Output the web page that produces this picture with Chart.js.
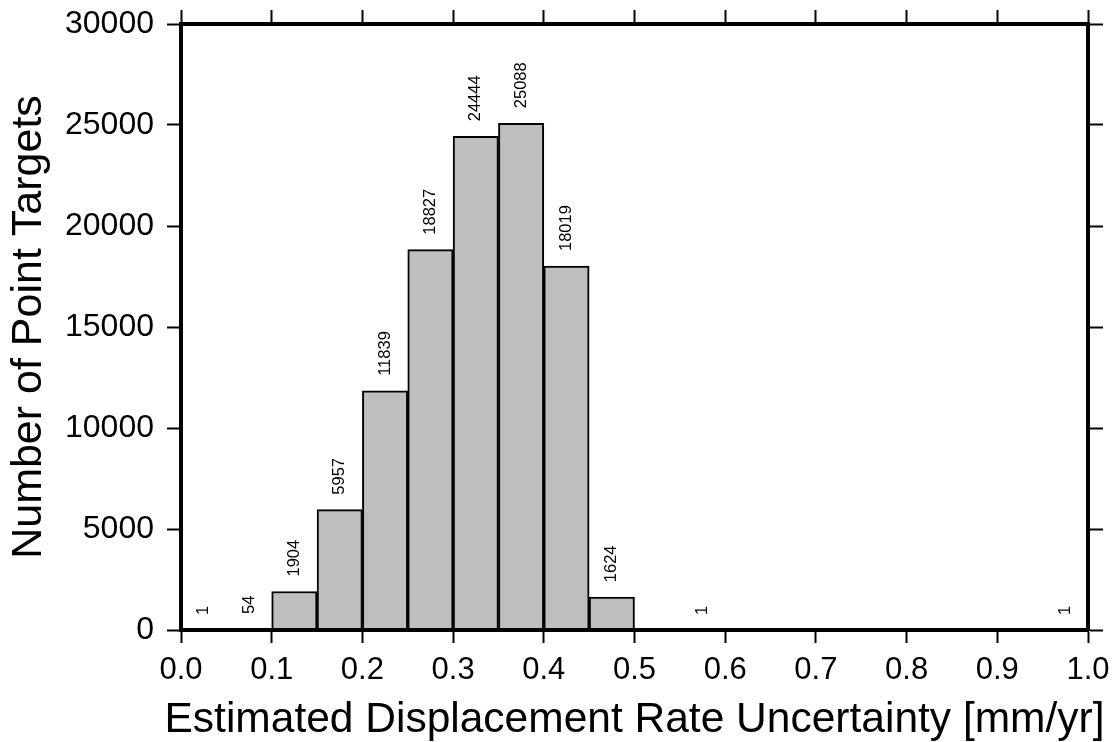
<!DOCTYPE html>
<html>
<head>
<meta charset="utf-8">
<script src="https://cdn.jsdelivr.net/npm/chart.js@4.4.1/dist/chart.umd.min.js"></script>
<style>
  html, body { margin: 0; padding: 0; background: #fff; }
  #wrap { width: 1118px; height: 742px; }
</style>
</head>
<body>
<div id="wrap"><canvas id="histograma" width="1118" height="742"></canvas></div>
<script>
// ===================== Datos del histograma ======================
var binCentros = [0.025, 0.075, 0.125, 0.175, 0.225, 0.275, 0.325, 0.375, 0.425, 0.475,
                  0.525, 0.575, 0.625, 0.675, 0.725, 0.775, 0.825, 0.875, 0.925, 0.975];
var conteos = [1, 54, 1904, 5957, 11839, 18827, 24444, 25088, 18019, 1624,
               0, 1, 0, 0, 0, 0, 0, 0, 0, 1];
var ticksX = [0.0, 0.1, 0.2, 0.3, 0.4, 0.5, 0.6, 0.7, 0.8, 0.9, 1.0];
var ticksY = [0, 5000, 10000, 15000, 20000, 25000, 30000];
var tituloX = "Estimated Displacement Rate Uncertainty [mm/yr]";
var tituloY = "Number of Point Targets";

var fuente = "'Liberation Sans', Arial, Helvetica, sans-serif";

// ===================== Etiquetas verticales sobre cada barra + título del eje X ======================
// (el título de Chart.js se comprime al ancho del área, por eso se dibuja aparte)
var etiquetasBarras = {
  id: "etiquetasBarras",
  afterDraw(chart) {
    const ctx = chart.ctx;
    const meta = chart.getDatasetMeta(0);
    ctx.save();
    ctx.fillStyle = "#000";
    ctx.font = "16.5px " + fuente;
    ctx.textAlign = "left";
    ctx.textBaseline = "middle";
    meta.data.forEach((bar, i) => {
      if (!conteos[i]) return;
      ctx.save();
      ctx.translate(bar.x, bar.y - 15);
      ctx.rotate(-Math.PI / 2);
      ctx.fillText(String(conteos[i]), 0, 0);
      ctx.restore();
    });

    const area = chart.chartArea;
    ctx.font = "42.5px " + fuente;
    ctx.textAlign = "center";
    ctx.textBaseline = "alphabetic";
    ctx.fillText(tituloX, (area.left + area.right) / 2, chart.height - 10);
    ctx.restore();
  }
};

// tamaño fijo del eje y sin relleno extra por las etiquetas
function ejeFijo(tam) {
  return function (scale) {
    if (scale.isHorizontal()) scale.height = tam; else scale.width = tam;
    scale.paddingTop = 0;
    scale.paddingBottom = 0;
    scale.paddingLeft = 0;
    scale.paddingRight = 0;
  };
}

var rejilla = function (largo) {
  return { display: true, drawOnChartArea: false, drawTicks: true, tickLength: largo, tickWidth: 2, tickColor: "#000", offset: false };
};
var borde = { display: true, width: 4, color: "#000", z: 1 };

new Chart(document.getElementById("histograma"), {
  type: "bar",
  data: {
    datasets: [{
      data: binCentros.map((c, i) => ({ x: c, y: conteos[i] })),
      backgroundColor: "#bebebe",
      borderColor: "#000",
      borderWidth: 2,
      borderSkipped: "start",
      barPercentage: 1,
      categoryPercentage: 1,
      xAxisID: "x",
      yAxisID: "y"
    }]
  },
  options: {
    responsive: false,
    animation: false,
    devicePixelRatio: 1,
    layout: { padding: 0 },
    plugins: { legend: { display: false }, tooltip: { enabled: false } },
    scales: {
      x: {
        type: "linear", position: "bottom", min: 0, max: 1, offset: false,
        afterFit: ejeFijo(112),
        afterBuildTicks: s => { s.ticks = ticksX.map(v => ({ value: v })); },
        grid: rejilla(13),
        border: borde,
        ticks: { color: "#000", padding: 12, font: { family: fuente, size: 31, lineHeight: 1 }, maxRotation: 0, autoSkip: false,
                 callback: v => v.toFixed(1) },
        title: { display: false }
      },
      x2: {
        type: "linear", position: "top", min: 0, max: 1, offset: false,
        afterFit: ejeFijo(24),
        afterBuildTicks: s => { s.ticks = ticksX.map(v => ({ value: v })); },
        grid: rejilla(14),
        border: borde,
        ticks: { display: false }
      },
      y: {
        type: "linear", position: "left", min: 0, max: 30000,
        afterFit: ejeFijo(181),
        afterBuildTicks: s => { s.ticks = ticksY.map(v => ({ value: v })); },
        grid: rejilla(14),
        border: borde,
        ticks: { color: "#000", padding: 13, font: { family: fuente, size: 32, lineHeight: 1 }, callback: v => String(v) },
        title: { display: true, text: tituloY, color: "#000",
                 font: { family: fuente, size: 43, lineHeight: 1 }, padding: { top: 8, bottom: 0 } }
      },
      y2: {
        type: "linear", position: "right", min: 0, max: 30000,
        afterFit: ejeFijo(30),
        afterBuildTicks: s => { s.ticks = ticksY.map(v => ({ value: v })); },
        grid: rejilla(15),
        border: borde,
        ticks: { display: false }
      }
    }
  },
  plugins: [etiquetasBarras]
});
</script>
</body>
</html>
